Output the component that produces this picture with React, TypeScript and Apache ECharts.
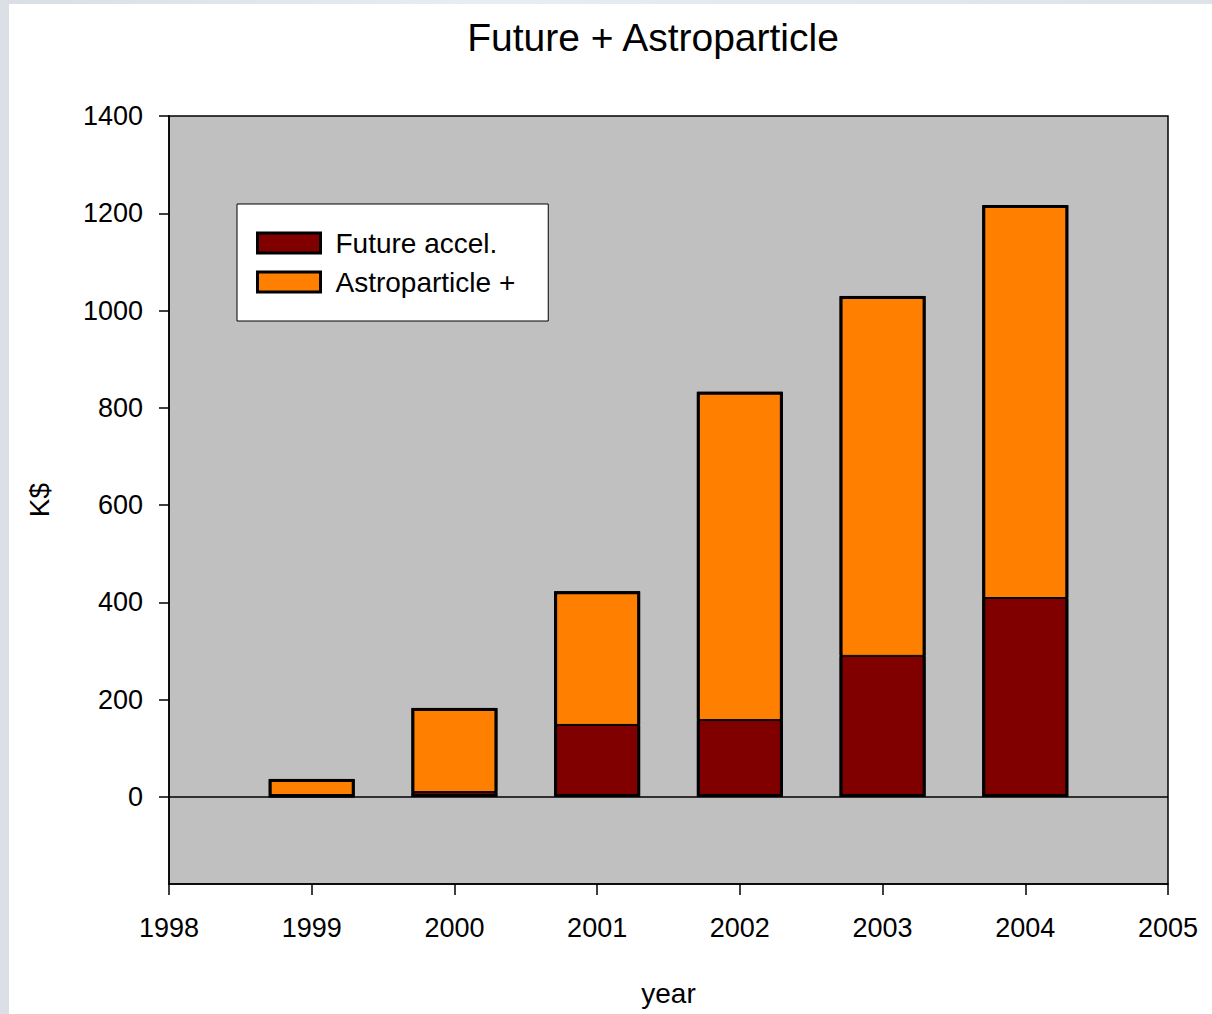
import React, { useEffect, useRef } from "react";
import * as echarts from "echarts";

const yearLabels = ["1998", "1999", "2000", "2001", "2002", "2003", "2004", "2005"];
const futureAccel: (number | string)[] = ["-", 0, 10, 148, 158, 290, 409, "-"];
const astroparticle: (number | string)[] = ["-", 37, 173, 275, 675, 740, 808, "-"];
const yTicks = [0, 200, 400, 600, 800, 1000, 1200, 1400];
const seriesNames = ["Future accel.", "Astroparticle +"];
const titleText = "Future + Astroparticle";

const FONT = "'Liberation Sans', Arial, sans-serif";
const BAR_W = 86;

export default function App() {
  const ref = useRef<HTMLDivElement>(null);
  useEffect(() => {
    if (!ref.current) return;
    const chart = echarts.init(ref.current, null, { renderer: "svg" });
    const totals = futureAccel.map((v, i) =>
      typeof v === "number" && typeof astroparticle[i] === "number" ? v + (astroparticle[i] as number) : "-"
    );
    chart.setOption({
      animation: false,
      textStyle: { fontFamily: FONT },
      title: {
        text: titleText,
        left: 639,
        top: 9,
        textAlign: "center",
        textStyle: { fontFamily: FONT, fontSize: 39, fontWeight: "normal", color: "#000" },
      },
      legend: {
        orient: "vertical",
        left: 228,
        top: 200,
        backgroundColor: "#fff",
        borderColor: "#000",
        borderWidth: 1,
        borderRadius: 0,
        padding: [25, 33, 25, 19],
        itemWidth: 63,
        itemHeight: 20,
        itemGap: 11,
        icon: "rect",
        itemStyle: { borderColor: "#000", borderWidth: 3 },
        textStyle: { fontFamily: FONT, fontSize: 28, color: "#000", padding: [0, 0, 0, 10] },
        data: seriesNames,
      },
      grid: {
        show: true,
        left: 160,
        top: 112,
        width: 999,
        height: 768,
        backgroundColor: "#c0c0c0",
        borderColor: "#000",
        borderWidth: 1.5,
      },
      xAxis: {
        type: "category",
        data: yearLabels,
        boundaryGap: false,
        name: "year",
        nameLocation: "middle",
        nameGap: 95,
        nameTextStyle: { fontFamily: FONT, fontSize: 28, color: "#000" },
        axisLine: { onZero: false, lineStyle: { color: "#000", width: 1.5 } },
        axisTick: { show: true, length: 11, alignWithLabel: true, lineStyle: { color: "#000", width: 1.5 } },
        axisLabel: { fontFamily: FONT, fontSize: 27, color: "#000", margin: 30, interval: 0 },
        splitLine: { show: false },
      },
      yAxis: {
        type: "value",
        min: -179,
        max: 1400,
        name: "K$",
        nameLocation: "middle",
        nameGap: 116,
        nameRotate: 90,
        nameTextStyle: { fontFamily: FONT, fontSize: 28, color: "#000" },
        axisLine: { show: true, lineStyle: { color: "#000", width: 1.5 } },
        axisTick: { show: true, length: 10, customValues: yTicks, lineStyle: { color: "#000", width: 1.5 } },
        axisLabel: {
          fontFamily: FONT,
          fontSize: 27,
          color: "#000",
          margin: 26,
          customValues: yTicks,
          formatter: (v: number) => String(v),
        },
        splitLine: { show: false },
      },
      series: [
        {
          name: seriesNames[0],
          type: "bar",
          stack: "total",
          barWidth: BAR_W,
          data: futureAccel,
          itemStyle: { color: "#800000", borderColor: "#000", borderWidth: 1 },
          markLine: {
            silent: true,
            symbol: "none",
            label: { show: false },
            lineStyle: { color: "#000", width: 1.5, type: "solid" },
            data: [{ yAxis: 0 }],
          },
        },
        {
          name: seriesNames[1],
          type: "bar",
          stack: "total",
          barWidth: BAR_W,
          data: astroparticle,
          itemStyle: { color: "#ff8000", borderColor: "#000", borderWidth: 1 },
        },
        {
          name: "outline",
          type: "bar",
          barWidth: BAR_W,
          barGap: "-100%",
          silent: true,
          z: 3,
          data: totals,
          itemStyle: { color: "rgba(0,0,0,0)", borderColor: "#000", borderWidth: 3 },
        },
      ],
    });
    return () => chart.dispose();
  }, []);
  return (
    <div style={{ position: "fixed", left: 0, top: 0, width: 1212, height: 1014, background: "linear-gradient(90deg, #d9dfe5, #e8edf1 40%, #dde3e8)" }}>
      <div ref={ref} style={{ position: "absolute", left: 9, top: 4, width: 1203, height: 1010, background: "#fff" }} />
    </div>
  );
}
